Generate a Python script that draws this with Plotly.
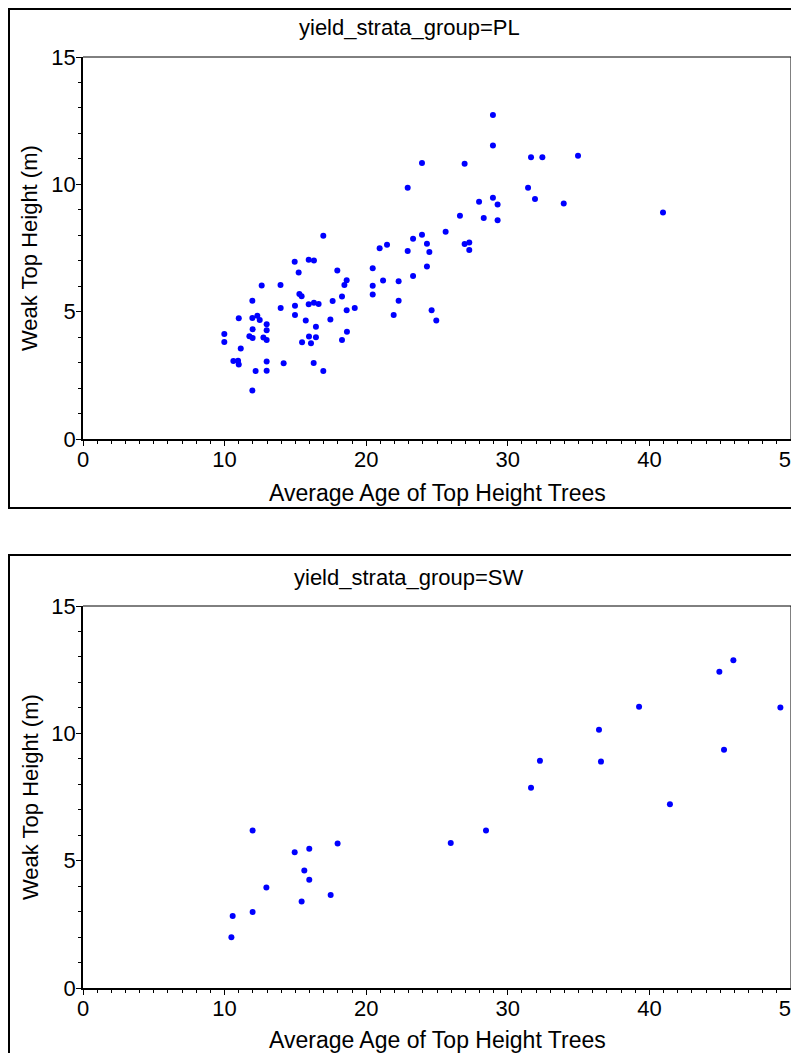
import plotly.graph_objects as go

# page body has an 8px margin; the figure is sized to fit the 799x1053 window
OFF = 8
FW, FH = 799 - OFF, 1053 - OFF

# ---- data ----
pl_age = [16.97, 20.95, 14.95, 15.94, 16.31, 15.23, 17.96, 20.46, 18.62, 18.46,
          20.46, 20.46, 12.62, 13.95, 11.96, 15.28, 15.44, 13.96, 14.97, 15.94,
          16.31, 16.64, 17.63, 18.29, 18.62, 19.19, 14.97, 15.73, 17.47, 16.45,
          18.64, 18.29, 15.96, 16.45, 15.47, 16.10, 11.00, 11.96, 12.31, 12.48,
          12.97, 11.98, 12.97, 9.98, 9.98, 11.75, 11.98, 12.74, 12.97, 11.14,
          10.62, 10.95, 11.00, 12.97, 14.17, 16.29, 12.19, 12.97, 16.97, 11.96,
          21.47, 28.95, 28.95, 23.94, 26.95, 22.93, 27.97, 28.95, 29.28, 26.62,
          28.30, 29.28, 25.61, 23.94, 23.31, 24.29, 22.93, 24.46, 26.95, 27.28,
          27.28, 24.29, 23.31, 21.19, 22.29, 22.29, 21.94, 24.62, 24.95, 31.64,
          32.44, 34.96, 31.43, 31.92, 33.95, 40.96]
pl_height = [7.98, 7.49, 6.96, 7.04, 7.01, 6.54, 6.62, 6.70, 6.23, 6.05,
             6.02, 5.67, 6.03, 6.05, 5.43, 5.69, 5.61, 5.14, 5.23, 5.29,
             5.35, 5.30, 5.42, 5.60, 5.06, 5.14, 4.87, 4.65, 4.69, 4.41,
             4.21, 3.89, 4.02, 4.00, 3.80, 3.76, 4.74, 4.75, 4.84, 4.67,
             4.51, 4.31, 4.27, 4.12, 3.81, 4.03, 3.97, 3.99, 3.89, 3.55,
             3.06, 3.07, 2.93, 3.04, 2.97, 2.98, 2.67, 2.68, 2.67, 1.90,
             7.63, 12.72, 11.52, 10.84, 10.81, 9.87, 9.32, 9.47, 9.21, 8.77,
             8.68, 8.59, 8.14, 8.02, 7.86, 7.67, 7.38, 7.34, 7.66, 7.72,
             7.42, 6.77, 6.40, 6.22, 6.19, 5.43, 4.87, 5.06, 4.65, 11.06,
             11.06, 11.12, 9.87, 9.42, 9.25, 8.89]

sw_age = [11.98, 17.98, 15.98, 14.95, 15.63, 15.98, 12.95, 17.49, 15.44, 11.98,
          10.57, 10.48, 25.97, 28.46, 31.64, 41.45, 45.93, 44.94, 39.27, 49.25,
          36.44, 45.27, 32.27, 36.58]
sw_height = [6.18, 5.67, 5.47, 5.33, 4.61, 4.25, 3.95, 3.65, 3.40, 2.98,
             2.83, 1.99, 5.69, 6.18, 7.86, 7.22, 12.87, 12.42, 11.04, 11.01,
             10.14, 9.36, 8.92, 8.89]

panel_titles = ["yield_strata_group=PL", "yield_strata_group=SW"]
x_title = "Average Age of Top Height Trees"
y_title = "Weak Top Height (m)"
x_ticks = [0, 10, 20, 30, 40, 50]
y_ticks = [0, 5, 10, 15]

FONT = "Liberation Sans, Arial, sans-serif"


def px(x):
    return (x - OFF) / FW


def py(y):
    return 1 - (y - OFF) / FH


# panel geometry in page pixels
plot_left, plot_right = 83, 791
panels = [
    dict(top=57, bottom=439, border_top=9, border_bottom=508, title_y=27, xt_y=493),
    dict(top=606, bottom=988, border_top=555, border_bottom=1070, title_y=577, xt_y=1040),
]

fig = go.Figure()
fig.add_trace(go.Scatter(x=pl_age, y=pl_height, mode="markers",
                         marker=dict(color="#0000FF", size=6), xaxis="x", yaxis="y",
                         showlegend=False))
fig.add_trace(go.Scatter(x=sw_age, y=sw_height, mode="markers",
                         marker=dict(color="#0000FF", size=6), xaxis="x2", yaxis="y2",
                         showlegend=False))

axis_common = dict(
    showgrid=False, zeroline=False, showline=True, linecolor="black", linewidth=1.5,
    ticks="outside", ticklen=5, tickwidth=1, tickcolor="black",
    tickfont=dict(family=FONT, size=22, color="black"),
    minor=dict(dtick=1, ticks="outside", ticklen=3, tickwidth=1, tickcolor="black", showgrid=False),
    automargin=False, fixedrange=True, ticklabeloverflow="allow",
)

shapes = []
annotations = []
for i, p in enumerate(panels):
    xs = "" if i == 0 else "2"
    fig.update_layout(**{
        "xaxis" + xs: dict(axis_common, domain=[px(plot_left), px(plot_right)], range=[0, 50],
                           tickvals=x_ticks, anchor="y" + xs, ticklabelstandoff=-5),
        "yaxis" + xs: dict(axis_common, domain=[py(p["bottom"]), py(p["top"])], range=[0, 15],
                           tickvals=y_ticks, anchor="x" + xs, ticklabelstandoff=-4),
    })
    # thin top/right frame of plot area
    shapes.append(dict(type="line", xref="x" + xs + " domain", yref="y" + xs + " domain",
                       x0=0, x1=1, y0=1, y1=1, line=dict(color="black", width=1)))
    shapes.append(dict(type="line", xref="x" + xs + " domain", yref="y" + xs + " domain",
                       x0=1, x1=1, y0=0, y1=1, line=dict(color="black", width=1)))
    # outer panel border (right edge falls outside the picture)
    shapes.append(dict(type="rect", xref="paper", yref="paper",
                       x0=px(9), x1=px(815), y0=py(p["border_bottom"]), y1=py(p["border_top"]),
                       line=dict(color="black", width=2), fillcolor="rgba(0,0,0,0)"))
    annotations.append(dict(text=panel_titles[i], xref="paper", yref="paper",
                            x=px(409), y=py(p["title_y"]), showarrow=False,
                            xanchor="center", yanchor="middle",
                            font=dict(family=FONT, size=22, color="black")))
    annotations.append(dict(text=x_title, xref="paper", yref="paper",
                            x=px((plot_left + plot_right) / 2), y=py(p["xt_y"]), showarrow=False,
                            xanchor="center", yanchor="middle",
                            font=dict(family=FONT, size=23, color="black")))
    annotations.append(dict(text=y_title, xref="paper", yref="paper",
                            x=px(30), y=py((p["top"] + p["bottom"]) / 2), showarrow=False,
                            textangle=-90, xanchor="center", yanchor="middle",
                            font=dict(family=FONT, size=22, color="black")))

fig.update_layout(
    width=FW, height=FH, autosize=False,
    margin=dict(l=0, r=0, t=0, b=0),
    paper_bgcolor="white", plot_bgcolor="white",
    shapes=shapes, annotations=annotations,
    showlegend=False,
)

fig.write_html("out.html")
